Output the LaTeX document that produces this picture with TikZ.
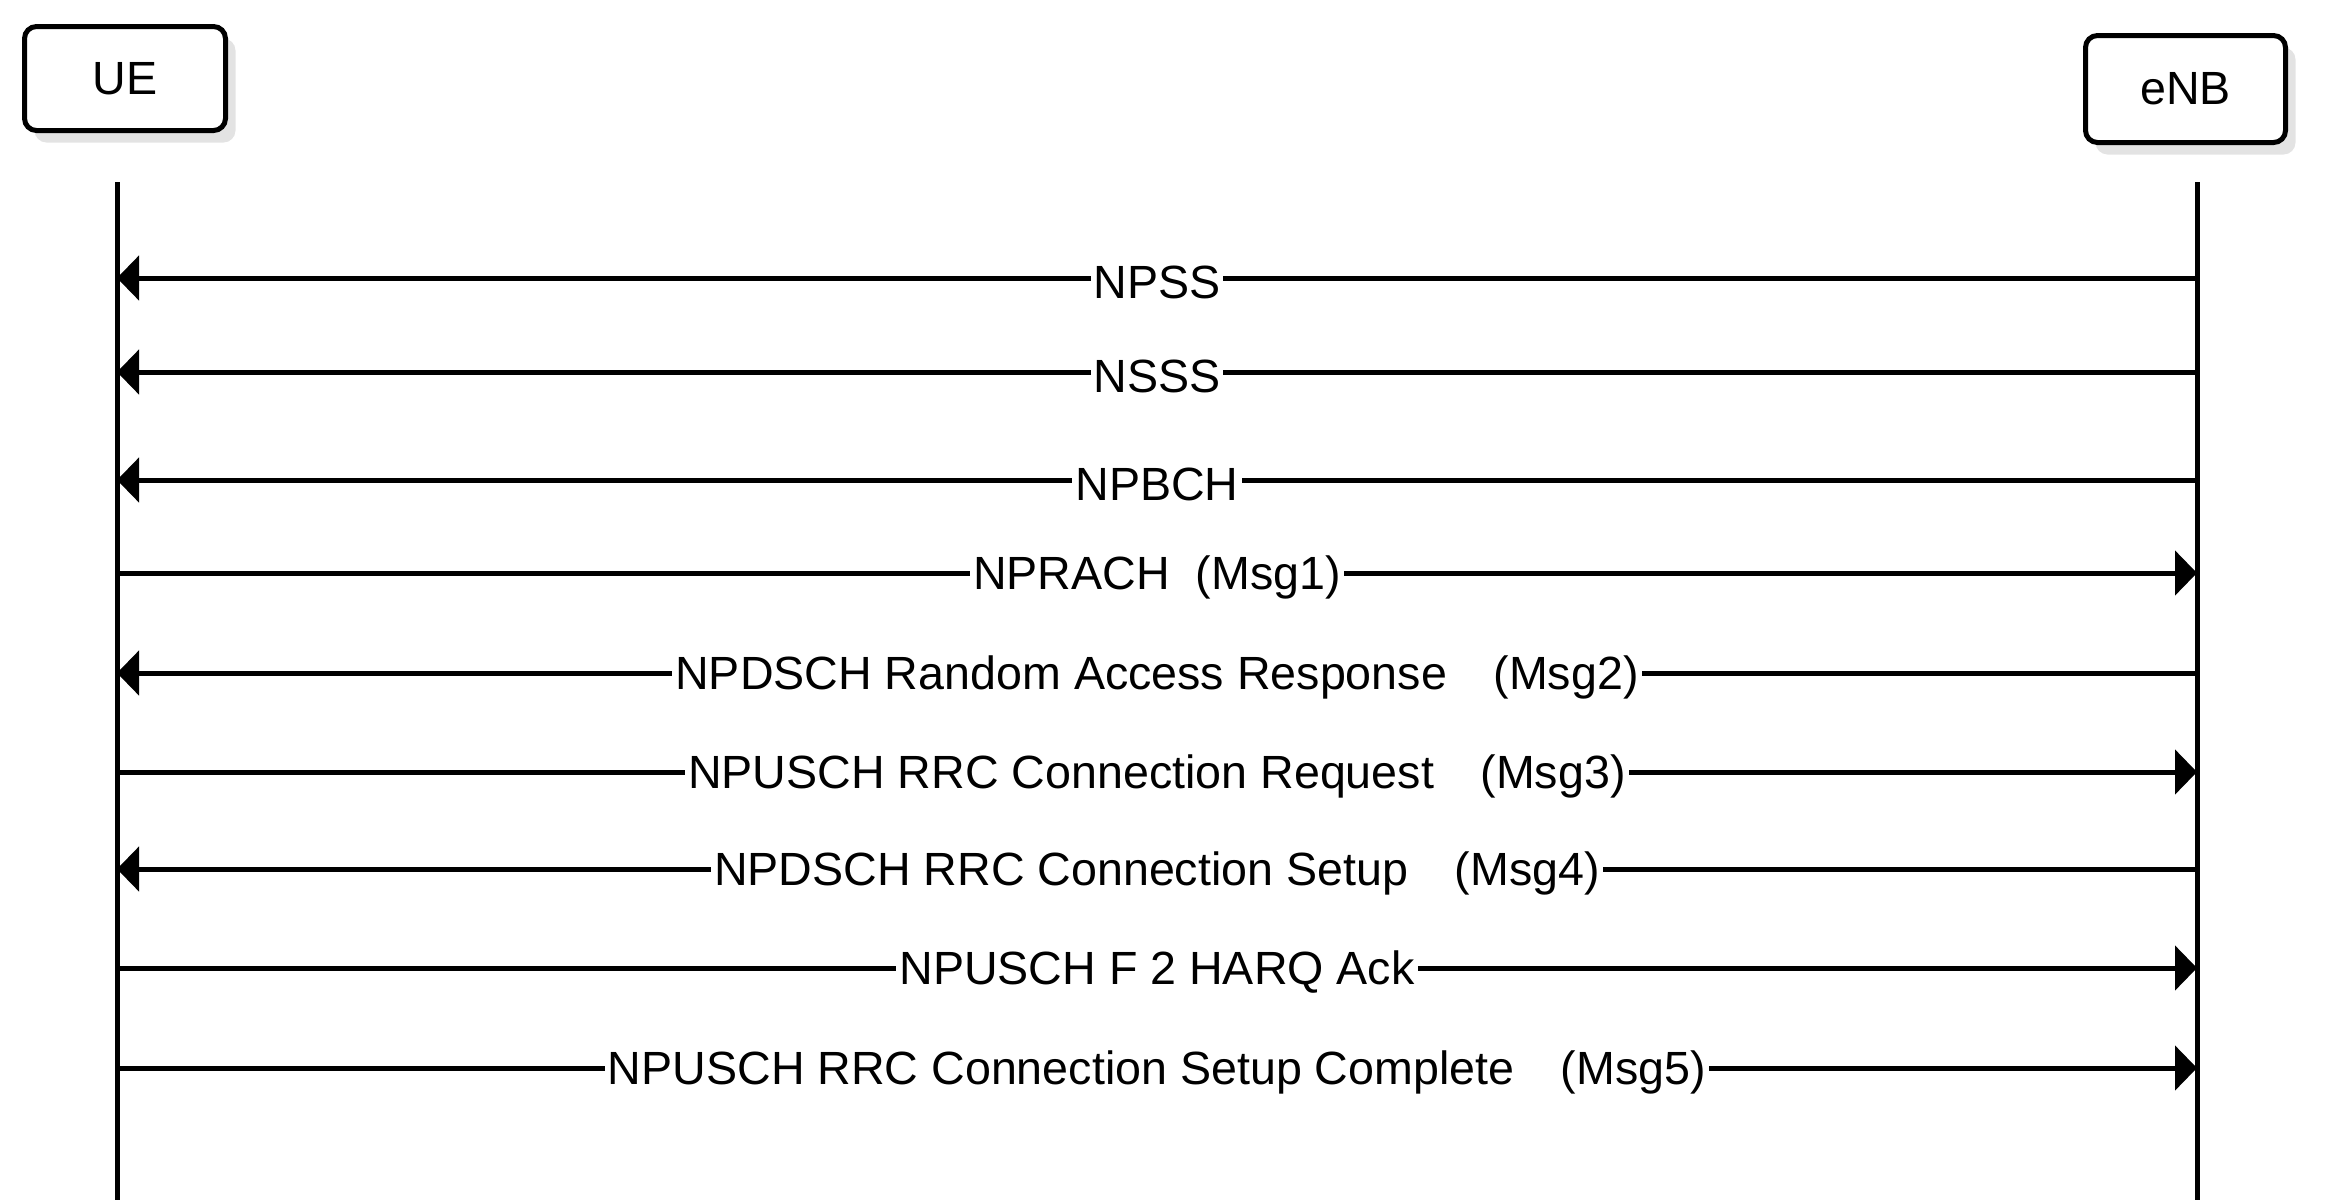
\documentclass[tikz,border=0pt]{standalone}
\usepackage{fontspec}
\setmainfont{Liberation Sans}
\usetikzlibrary{arrows.meta,shadows}

\begin{document}
\begin{tikzpicture}[x=0.5pt,y=-0.5pt,>={Triangle[length=11pt,width=22pt]},
  actor/.style={draw,line width=2.5pt,rounded corners=6pt,fill=white,font=\fontsize{23.3}{28}\selectfont,
    drop shadow={opacity=.22,shadow xshift=5pt,shadow yshift=-6pt}},
  msg/.style={fill=white,inner sep=1.5pt,yshift=-2pt,font=\fontsize{23.3}{28}\selectfont},
  life/.style={line width=2.5pt}]
\useasboundingbox (0,0) rectangle (2345,1201);
\node[actor,minimum width=100.5pt,minimum height=52pt] (ue) at (125,78.5) {UE};
\node[actor,minimum width=100pt,minimum height=53.5pt] (enb) at (2185.5,89) {eNB};
\coordinate (uetop) at (117,182); \coordinate (uebot) at (117,1200);
\coordinate (enbtop) at (2197,182); \coordinate (enbbot) at (2197,1200);
\draw[life] (uetop)--(uebot); \draw[life] (enbtop)--(enbbot);
\foreach \i/\y/\dir/\txt in {1/278/<-/NPSS,2/372/<-/NSSS,3/480/<-/NPBCH,4/573/->/NPRACH\ \ (Msg1),
  5/673/<-/NPDSCH Random Access Response\quad(Msg2),6/772/->/NPUSCH RRC Connection Request\quad(Msg3),
  7/869/<-/NPDSCH RRC Connection Setup\quad(Msg4),8/968/->/NPUSCH F 2 HARQ Ack,
  9/1068/->/NPUSCH RRC Connection Setup Complete\quad(Msg5)}{
  \coordinate (u\i) at (117,\y); \coordinate (e\i) at (2197,\y);
  \draw[life,\dir] (u\i) -- node[msg] (m\i) {\txt} (e\i);
}
\end{tikzpicture}
\end{document}
